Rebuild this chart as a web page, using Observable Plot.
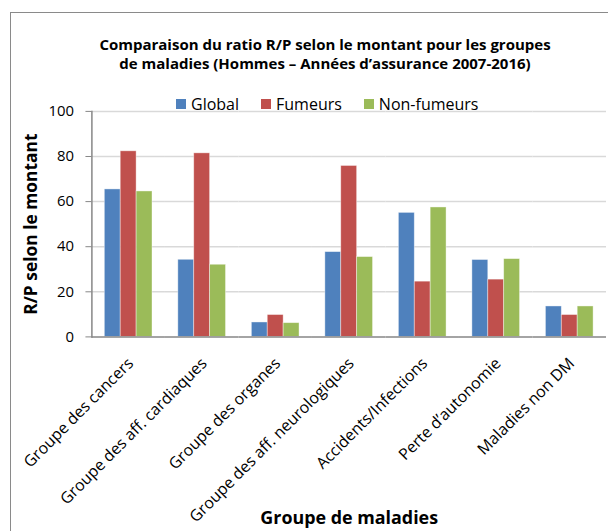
<!DOCTYPE html>
<html><head><meta charset="utf-8">
<script src="https://cdn.jsdelivr.net/npm/d3@7"></script>
<script src="https://cdn.jsdelivr.net/npm/@observablehq/plot@0.6"></script>
<style>
html,body{margin:0;padding:0;background:#fff;}
#wrap{position:relative;width:608px;height:531px;overflow:hidden;font-family:"Open Sans",sans-serif;color:#000;}
#border{position:absolute;left:10px;top:12px;width:800px;height:800px;border:1.5px solid #8a8a8a;box-sizing:border-box;}
#header{position:relative;height:95px;}
#title{position:absolute;left:0;width:650px;top:35px;text-align:center;font-weight:bold;font-size:15px;line-height:19px;}
#legend{position:absolute;left:176px;top:94px;height:20px;display:flex;align-items:center;font-size:16px;z-index:2;}
#legend .item{display:flex;align-items:center;margin-right:22px;}
#legend .sw{width:10px;height:10px;margin-right:5px;}
#chart svg{display:block;overflow:visible;}
g[aria-label="fx-axis tick label"] text{font-size:16px;}
g[aria-label="y-axis label"] text{font-weight:bold;font-size:17.5px;}
g[aria-label="fx-axis label"] text{font-weight:bold;font-size:18px;}
</style>
</head><body>
<div id="wrap">
  <div id="border"></div>
  <div id="header">
    <div id="title">Comparaison du ratio R/P selon le montant pour les groupes<br>de maladies (Hommes – Années d’assurance 2007-2016)</div>
    <div id="legend"></div>
  </div>
  <div id="chart"></div>
</div>
<script>
const categories = ["Groupe des cancers","Groupe des aff. cardiaques","Groupe des organes","Groupe des aff. neurologiques","Accidents/Infections","Perte d’autonomie","Maladies non DM"];
const series = ["Global","Fumeurs","Non-fumeurs"];
const globalValues = [65.4, 34.2, 6.4, 37.6, 55.0, 34.1, 13.5];
const fumeursValues = [82.3, 81.4, 9.7, 75.8, 24.5, 25.4, 9.7];
const nonFumeursValues = [64.5, 32.0, 6.1, 35.4, 57.4, 34.5, 13.5];
const colors = ["#4F81BD","#C0504D","#9BBB59"];
const yTicks = [0,20,40,60,80,100];
const gridTicks = [20,40,60,80,100];

const seriesValues = [globalValues, fumeursValues, nonFumeursValues];
const table = categories.flatMap((cat, i) => seriesValues.map((vals, j) => ({cat, serie: series[j], value: vals[i]})));

// legend
const legend = document.getElementById("legend");
series.forEach((s, j) => {
  const it = document.createElement("div"); it.className = "item";
  const sw = document.createElement("div"); sw.className = "sw"; sw.style.background = colors[j];
  const tx = document.createElement("span"); tx.textContent = s;
  it.appendChild(sw); it.appendChild(tx); legend.appendChild(it);
});

const chart = Plot.plot({
  width: 612, height: 436,
  marginTop: 16, marginBottom: 193, marginLeft: 90, marginRight: 0,
  style: {fontFamily: '"Open Sans", sans-serif', fontSize: "15px", color: "#000", background: "transparent"},
  fx: {domain: categories, padding: 0, label: "Groupe de maladies"},
  x: {domain: series, padding: 0, insetLeft: 12.5, insetRight: 12.5, axis: null},
  y: {domain: [0, 100], label: "R/P selon le montant"},
  color: {domain: series, range: colors},
  marks: [
    Plot.ruleY(gridTicks, {stroke: "#d9d9d9", strokeWidth: 1.5}),
    Plot.barY(table, {fx: "cat", x: "serie", y: "value", fill: "serie", stroke: "#ffffff", strokeOpacity: 0.5, strokeWidth: 0.8}),
    Plot.ruleY([0], {stroke: "#868686", strokeWidth: 1.5}),
    Plot.frame({anchor: "left", facetAnchor: "left", stroke: "#868686", strokeWidth: 1.5}),
    Plot.axisY({ticks: yTicks, tickSize: 6, tickPadding: 12, stroke: "#868686", label: "R/P selon le montant", labelArrow: "none", labelAnchor: "center", labelOffset: 68}),
    Plot.axisFx({anchor: "bottom", tickRotate: -45, tickSize: 0, tickPadding: 24, dx: 2, label: null}),
    Plot.axisFx({anchor: "bottom", ticks: [], tickSize: 0, label: "Groupe de maladies", labelArrow: "none", labelAnchor: "center", labelOffset: 188})
  ]
});
document.getElementById("chart").appendChild(chart);
</script>
</body></html>
